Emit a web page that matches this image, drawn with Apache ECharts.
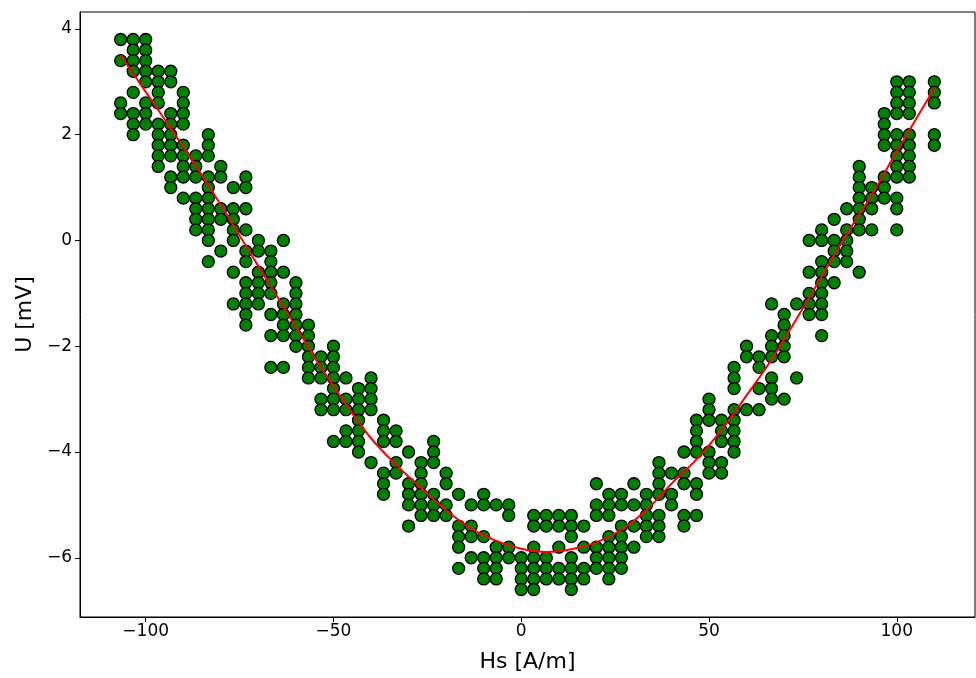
<!DOCTYPE html>
<html>
<head>
<meta charset="utf-8">
<script src="https://cdn.jsdelivr.net/npm/echarts@6/dist/echarts.min.js"></script>
<style>
  html, body { margin: 0; padding: 0; background: #fff; }
  #chart { width: 976px; height: 678px; }
</style>
</head>
<body>
<div id="chart"></div>
<script>
// Field strength columns (A/m); each has a list of measured voltages (mV)
const hsColumns = [
  -106.67, -103.33, -100, -96.67, -93.33, -90, -86.67, -83.33, -80, -76.67,
  -73.33, -70, -66.67, -63.33, -60, -56.67, -53.33, -50, -46.67, -43.33,
  -40, -36.67, -33.33, -30, -26.67, -23.33, -20, -16.67, -13.33, -10,
  -6.67, -3.33, 0, 3.33, 6.67, 10, 13.33, 16.67, 20, 23.33,
  26.67, 30, 33.33, 36.67, 40, 43.33, 46.67, 50, 53.33, 56.67,
  60, 63.33, 66.67, 70, 73.33, 76.67, 80, 83.33, 86.67, 90,
  93.33, 96.67, 100, 103.33, 110
];

const uColumns = [
  [3.8, 3.4, 2.6, 2.4],
  [3.8, 3.6, 3.4, 3.2, 2.8, 2.4, 2.2, 2.0],
  [3.8, 3.6, 3.4, 3.2, 3.0, 2.6, 2.4, 2.2],
  [3.2, 3.0, 2.8, 2.6, 2.2, 2.0, 1.8, 1.6, 1.4],
  [3.2, 3.0, 2.4, 2.2, 2.0, 1.8, 1.6, 1.2, 1.0],
  [2.8, 2.6, 2.4, 2.2, 1.8, 1.6, 1.4, 1.2, 0.8],
  [1.6, 1.4, 1.2, 0.8, 0.6, 0.4, 0.2],
  [2.0, 1.8, 1.6, 1.2, 1.0, 0.8, 0.6, 0.4, 0.2, 0.0, -0.4],
  [1.4, 1.2, 0.6, 0.4, -0.2],
  [1.0, 0.6, 0.4, 0.2, 0.0, -0.6, -1.2],
  [1.2, 1.0, 0.6, 0.2, -0.2, -0.4, -0.8, -1.0, -1.2, -1.4, -1.6],
  [0.0, -0.2, -0.6, -0.8, -1.0, -1.2],
  [-0.2, -0.4, -0.6, -0.8, -1.0, -1.4, -1.8, -2.4],
  [0.0, -0.6, -1.2, -1.4, -1.6, -1.8, -2.4],
  [-0.8, -1.0, -1.2, -1.4, -1.6, -1.8, -2.0],
  [-1.6, -1.8, -2.0, -2.2, -2.4, -2.6],
  [-2.2, -2.4, -2.6, -3.0, -3.2],
  [-2.0, -2.2, -2.4, -2.6, -2.8, -3.0, -3.2, -3.8],
  [-2.6, -3.0, -3.2, -3.6, -3.8],
  [-2.8, -3.0, -3.2, -3.4, -3.6, -3.8, -4.0],
  [-2.6, -2.8, -3.0, -3.2, -4.2],
  [-3.4, -3.6, -3.8, -4.4, -4.6, -4.8],
  [-3.6, -3.8, -4.2, -4.4],
  [-4.0, -4.6, -4.8, -5.0, -5.4],
  [-4.2, -4.4, -4.6, -4.8, -5.0, -5.2],
  [-3.8, -4.0, -4.2, -4.8, -5.0, -5.2],
  [-4.4, -4.6, -5.0, -5.2],
  [-4.8, -5.4, -5.6, -5.8, -6.2],
  [-5.0, -5.4, -5.6, -6.0],
  [-4.8, -5.0, -5.6, -6.0, -6.2, -6.4],
  [-5.0, -5.8, -6.0, -6.2, -6.4],
  [-5.0, -5.2, -5.8, -6.0],
  [-6.0, -6.2, -6.4, -6.6],
  [-5.2, -5.4, -5.8, -6.0, -6.2, -6.4, -6.6],
  [-5.2, -5.4, -6.0, -6.2, -6.4],
  [-5.2, -5.4, -5.8, -6.2, -6.4],
  [-5.2, -5.4, -5.6, -6.0, -6.2, -6.4, -6.6],
  [-5.4, -5.8, -6.2, -6.4],
  [-4.6, -5.0, -5.2, -5.8, -6.0, -6.2],
  [-4.8, -5.0, -5.2, -5.6, -5.8, -6.0, -6.2, -6.4],
  [-4.8, -5.0, -5.4, -5.6, -5.8, -6.0, -6.2],
  [-4.6, -5.0, -5.4, -5.8],
  [-4.8, -5.0, -5.2, -5.4, -5.6],
  [-4.2, -4.4, -4.6, -4.8, -5.2, -5.4, -5.6],
  [-4.4, -4.8, -5.0],
  [-4.0, -4.4, -4.6, -5.2, -5.4],
  [-3.4, -3.6, -3.8, -4.0, -4.6, -4.8, -5.2],
  [-3.0, -3.2, -3.4, -4.0, -4.2, -4.4],
  [-3.4, -3.6, -3.8, -4.2, -4.4],
  [-2.4, -2.6, -2.8, -3.2, -3.4, -3.6, -3.8, -4.0],
  [-2.0, -2.2, -3.2],
  [-2.2, -2.4, -2.8, -3.2],
  [-1.2, -1.8, -2.0, -2.2, -2.6, -2.8, -3.0],
  [-1.4, -1.6, -1.8, -2.0, -2.2, -3.0],
  [-1.2, -2.6],
  [0.0, -0.6, -1.0, -1.2, -1.4],
  [0.2, 0.0, -0.4, -0.6, -0.8, -1.0, -1.2, -1.4, -1.8],
  [0.4, 0.0, -0.2, -0.4, -0.8],
  [0.6, 0.2, 0.0, -0.2, -0.4],
  [1.4, 1.2, 1.0, 0.8, 0.6, 0.4, 0.2, -0.6],
  [1.0, 0.8, 0.6, 0.2],
  [2.4, 2.2, 2.0, 1.8, 1.2, 1.0, 0.8],
  [3.0, 2.8, 2.6, 2.4, 2.0, 1.8, 1.6, 1.4, 1.2, 0.8, 0.6, 0.2],
  [3.0, 2.8, 2.6, 2.4, 2.0, 1.8, 1.6, 1.4, 1.2],
  [3.0, 2.8, 2.6, 2.0, 1.8]
];

// fitted characteristic curve, sampled along the field range
const fitHs = [
  -106.67, -100, -93.33, -86.67, -80, -73.33, -66.67, -60, -53.33, -46.67,
  -40, -33.33, -26.67, -20, -13.33, -6.67, 0, 6.67, 13.33, 20,
  26.67, 33.33, 40, 46.67, 53.33, 60, 66.67, 73.33, 80, 86.67,
  93.33, 100, 106.67, 110
];
const fitU = [
  3.50, 2.81, 2.12, 1.41, 0.67, -0.10, -0.87, -1.63, -2.40, -3.10,
  -3.74, -4.24, -4.68, -5.10, -5.45, -5.68, -5.83, -5.89, -5.84, -5.71,
  -5.47, -5.10, -4.60, -4.14, -3.58, -2.93, -2.25, -1.48, -0.68, 0.12,
  0.86, 1.68, 2.48, 2.88
];

const xTicks = [-100, -50, 0, 50, 100];
const yTicks = [-6, -4, -2, 0, 2, 4];

// flatten into [hs, u] pairs
const points = [];
hsColumns.forEach((hs, i) => uColumns[i].forEach(u => points.push([hs, u])));
const fitLine = fitHs.map((hs, i) => [hs, fitU[i]]);

const minus = v => String(v).replace('-', '\u2212');
const font = 'DejaVu Sans';

const chart = echarts.init(document.getElementById('chart'), null, {renderer: 'canvas'});
chart.setOption({
  animation: false,
  backgroundColor: '#fff',
  grid: {
    left: 80, right: 1, top: 12, bottom: 58,
    show: true, borderColor: '#000', borderWidth: 1, backgroundColor: 'transparent'
  },
  xAxis: {
    type: 'value',
    min: -117.5, max: 120.83,
    name: 'Hs [A/m]',
    nameLocation: 'middle',
    nameGap: 34,
    nameTextStyle: {fontFamily: font, fontSize: 22, color: '#000'},
    splitLine: {show: false},
    axisLine: {show: true, onZero: false, lineStyle: {color: '#000', width: 1}},
    axisTick: {show: true, length: 5, lineStyle: {color: '#000'}, customValues: xTicks},
    axisLabel: {
      customValues: xTicks, formatter: minus,
      fontFamily: font, fontSize: 17, color: '#000', margin: 6
    }
  },
  yAxis: {
    type: 'value',
    min: -7.12, max: 4.32,
    name: 'U [mV]',
    nameLocation: 'middle',
    nameGap: 44,
    nameTextStyle: {fontFamily: font, fontSize: 22, color: '#000'},
    splitLine: {show: false},
    axisLine: {show: true, onZero: false, lineStyle: {color: '#000', width: 1}},
    axisTick: {show: true, length: 5, lineStyle: {color: '#000'}, customValues: yTicks},
    axisLabel: {
      customValues: yTicks, formatter: minus,
      fontFamily: font, fontSize: 17, color: '#000', margin: 8
    }
  },
  series: [
    {
      type: 'scatter',
      data: points,
      symbol: 'circle',
      symbolSize: 12,
      itemStyle: {color: '#008000', borderColor: '#000', borderWidth: 1.3, opacity: 1},
      z: 2
    },
    {
      type: 'line',
      data: fitLine,
      showSymbol: false,
      smooth: 0.4,
      lineStyle: {color: '#ff0000', width: 2},
      z: 3
    }
  ]
});
</script>
</body>
</html>
